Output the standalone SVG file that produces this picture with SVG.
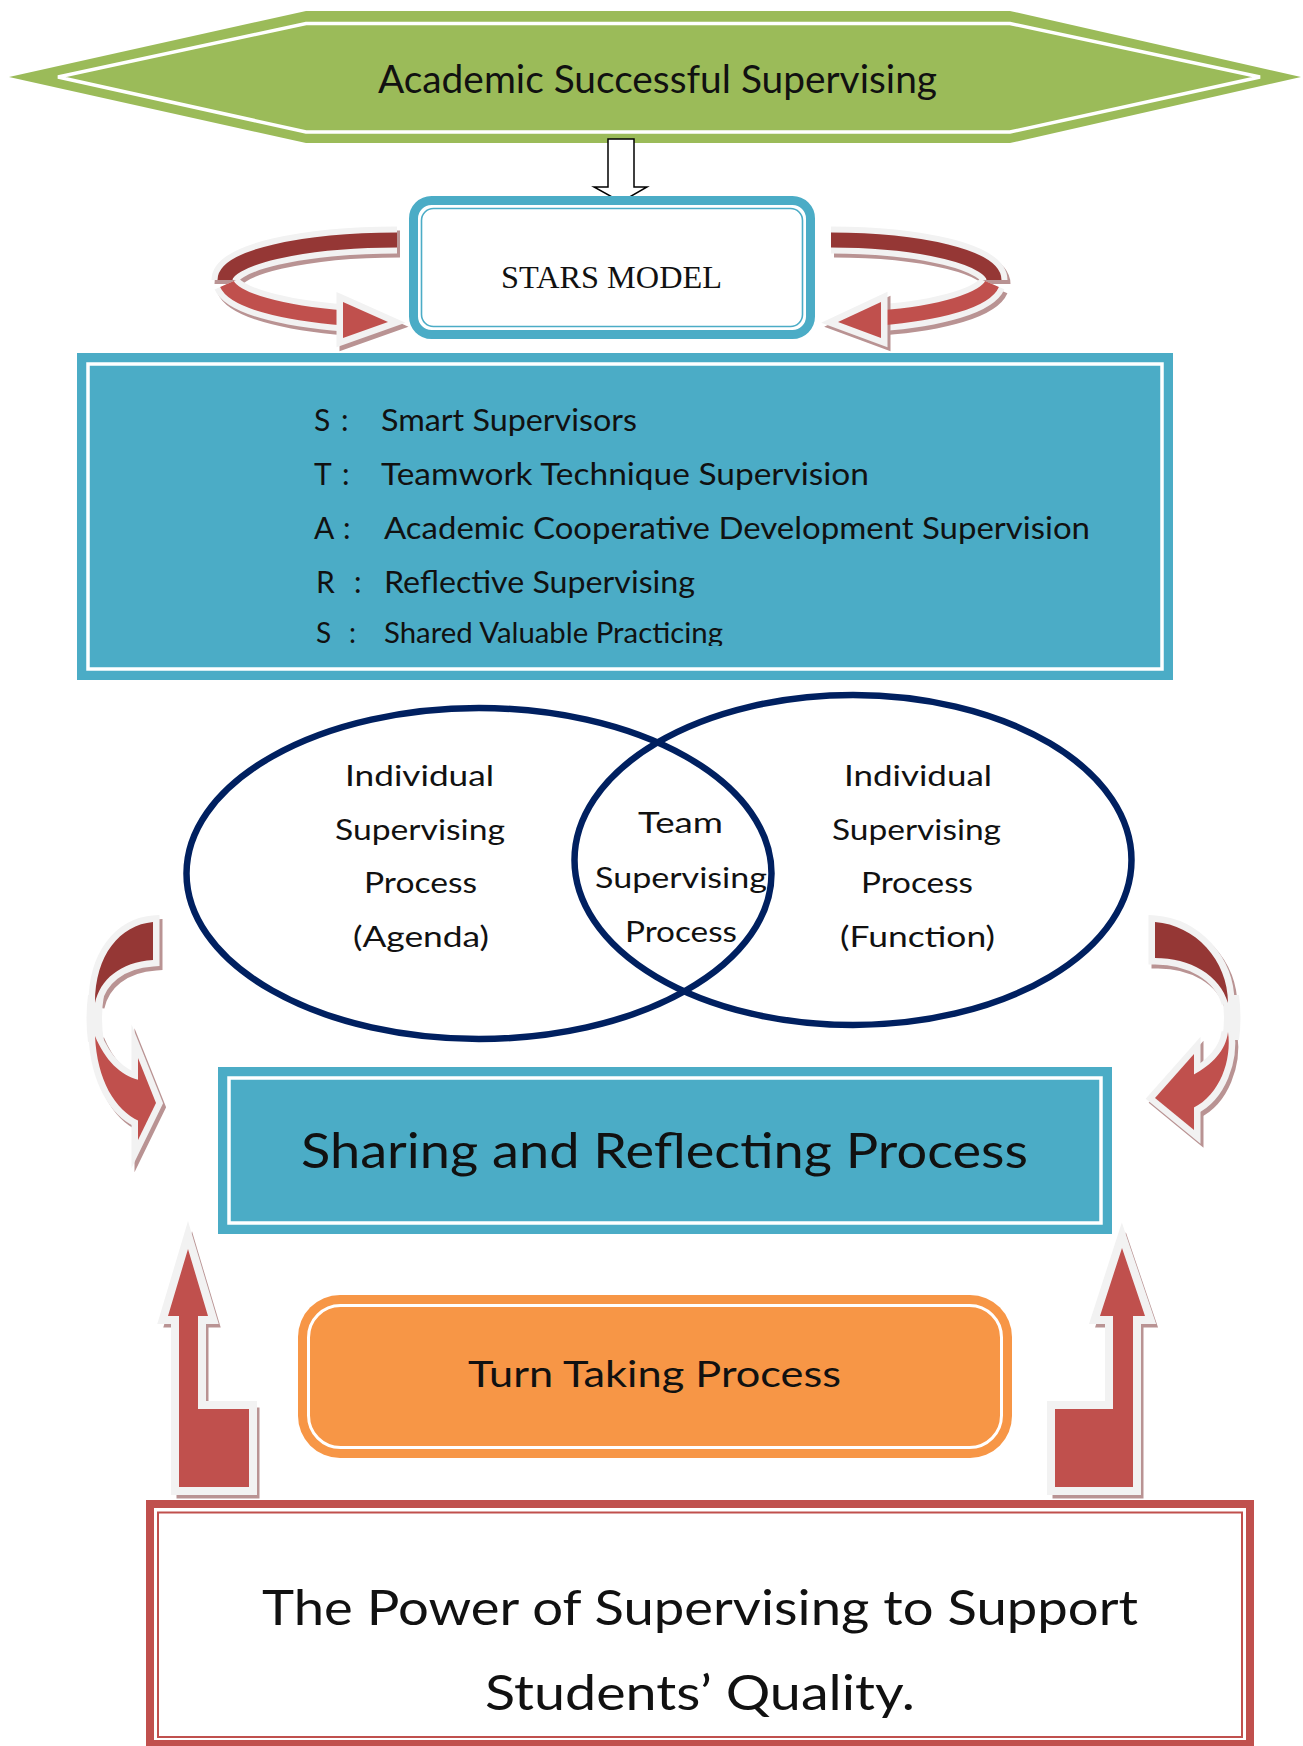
<svg xmlns="http://www.w3.org/2000/svg" width="1303" height="1746" viewBox="0 0 1303 1746">
<style>
.t{font-family:Lato,"Open Sans","Liberation Sans",sans-serif;fill:#111}
.sv{font-family:"Liberation Serif","Times New Roman",serif;fill:#111}
.dk{fill:#953735}
.lt{fill:#C0504D}
.ol{stroke:#F2F2F2;stroke-width:13;stroke-linejoin:miter;stroke-miterlimit:4;paint-order:stroke}
.wo{fill:#F2F2F2;stroke:#F2F2F2;stroke-width:13;stroke-linejoin:miter;stroke-miterlimit:4}
.wh{fill:#F2F2F2;stroke:#F2F2F2;stroke-width:13;stroke-linejoin:miter;stroke-miterlimit:8}
.sh{fill:#B99393;stroke:#B99393;stroke-width:13;stroke-linejoin:miter;stroke-miterlimit:4}
.shh{fill:#B99393;stroke:#B99393;stroke-width:13;stroke-linejoin:miter;stroke-miterlimit:8}
.bandW{fill:none;stroke:#F2F2F2;stroke-width:27}
.bandS{fill:none;stroke:#B99393;stroke-width:27}
</style>
<defs>
<clipPath id="clipLast"><rect x="300" y="600" width="600" height="46"/></clipPath>
</defs>
<rect width="1303" height="1746" fill="#fff"/>

<g id="title">
<polygon points="9,77 306,11 1010,11 1301,77 1010,143 306,143" fill="#9BBB59"/>
<polygon points="58,77 306,23.5 1010,23.5 1260,77 1010,132 306,132" fill="none" stroke="#fff" stroke-width="3.5"/>
<text class="t" x="378" y="93" font-size="38" textLength="559" lengthAdjust="spacingAndGlyphs">Academic Successful Supervising</text>
</g>

<g id="connectors">
<polygon points="608,139 634,139 634,187 647,187 621,202 594,187 608,187" fill="#fff" stroke="#000" stroke-width="1.5"/>

<g id="loopLeft">
<path d="M397,240 A172,40 0 0 0 225,280" class="bandS" transform="translate(3,4)"/>
<path d="M397,240 A172,40 0 0 0 225,280" class="bandW"/>
<path d="M397,240 A172,40 0 0 0 225,280" fill="none" stroke="#953735" stroke-width="15"/>
<path d="M227,284 A172,40 0 0 0 345,318" class="bandS" transform="translate(3,4)"/>
<path d="M227,284 A172,40 0 0 0 345,318" class="bandW"/>
<polygon points="343,302 388,322 343,338" class="sh" transform="translate(3,4)"/>
<path d="M227,284 A172,40 0 0 0 345,318" fill="none" stroke="#C0504D" stroke-width="15"/>
<polygon points="343,302 388,322 343,338" class="lt ol"/>
</g>

<g id="loopRight">
<path d="M831,240 A163,40 0 0 1 994,280" class="bandS" transform="translate(3,4)"/>
<path d="M831,240 A163,40 0 0 1 994,280" class="bandW"/>
<path d="M831,240 A163,40 0 0 1 994,280" fill="none" stroke="#953735" stroke-width="15"/>
<path d="M992,284 A163,40 0 0 1 879,318" class="bandS" transform="translate(3,4)"/>
<path d="M992,284 A163,40 0 0 1 879,318" class="bandW"/>
<polygon points="881,302 838,322 881,338" class="sh" transform="translate(3,4)"/>
<path d="M992,284 A163,40 0 0 1 879,318" fill="none" stroke="#C0504D" stroke-width="15"/>
<polygon points="881,302 838,322 881,338" class="lt ol"/>
</g>

<g id="curveLeft">
<g transform="translate(3,4)">
<path d="M153,922 C120,925 95,955 95,1003 C100,980 120,962 153,960 Z" class="sh"/>
<path d="M95,1036 C105,1060 120,1075 138,1080 L138,1121 C115,1110 97,1080 95,1036 Z" class="sh"/>
<polygon points="138,1058 156,1103 138,1140" class="shh"/>
</g>
<path d="M88,995 Q85,1018 88,1042 L104,1042 Q100,1018 104,995 Z" fill="#F2F2F2"/>
<path d="M153,922 C120,925 95,955 95,1003 C100,980 120,962 153,960 Z" class="wo"/>
<path d="M95,1036 C105,1060 120,1075 138,1080 L138,1121 C115,1110 97,1080 95,1036 Z" class="wo"/>
<polygon points="138,1058 156,1103 138,1140" class="wh"/>
<path d="M153,922 C120,925 95,955 95,1003 C100,980 120,962 153,960 Z" class="dk"/>
<path d="M95,1036 C105,1060 120,1075 139,1080 L139,1121 C115,1110 97,1080 95,1036 Z" class="lt"/>
<polygon points="138,1058 156,1103 138,1140" class="lt"/>
</g>

<g id="curveRight">
<g transform="translate(3,4)">
<path d="M1155,922 C1195,925 1228,960 1228,1003 C1220,975 1190,958 1155,958 Z" class="sh"/>
<path d="M1228,1032 C1232,1060 1220,1095 1194,1108 L1194,1075 C1212,1065 1226,1050 1228,1032 Z" class="sh"/>
<polygon points="1194,1054 1155,1098 1194,1130" class="shh"/>
</g>
<path d="M1222,995 Q1226,1018 1222,1040 L1239,1040 Q1242,1018 1239,995 Z" fill="#F2F2F2"/>
<path d="M1155,922 C1195,925 1228,960 1228,1003 C1220,975 1190,958 1155,958 Z" class="wo"/>
<path d="M1228,1032 C1232,1060 1220,1095 1194,1108 L1194,1075 C1212,1065 1226,1050 1228,1032 Z" class="wo"/>
<polygon points="1194,1054 1155,1098 1194,1130" class="wh"/>
<path d="M1155,922 C1195,925 1228,960 1228,1003 C1220,975 1190,958 1155,958 Z" class="dk"/>
<path d="M1228,1032 C1232,1060 1220,1095 1193,1108 L1193,1075 C1212,1065 1226,1050 1228,1032 Z" class="lt"/>
<polygon points="1194,1054 1155,1098 1194,1130" class="lt"/>
</g>

<g id="upLeft">
<polygon points="188,1249 208,1316 198,1316 198,1409 249,1409 249,1487 179,1487 179,1316 168,1316" class="sh" transform="translate(4,5)"/>
<polygon points="188,1249 208,1316 198,1316 198,1409 249,1409 249,1487 179,1487 179,1316 168,1316" class="lt ol" style="stroke-width:16"/>
</g>
<g id="upRight">
<polygon points="1122,1248 1145,1316 1133,1316 1133,1487 1055,1487 1055,1409 1113,1409 1113,1316 1100,1316" class="sh" transform="translate(4,5)"/>
<polygon points="1122,1248 1145,1316 1133,1316 1133,1487 1055,1487 1055,1409 1113,1409 1113,1316 1100,1316" class="lt ol" style="stroke-width:16"/>
</g>
</g>

<g id="stars">
<rect x="413.5" y="200.5" width="397" height="134" rx="18" fill="#fff" stroke="#4BACC6" stroke-width="9"/>
<rect x="421.5" y="208.5" width="381" height="118" rx="12" fill="none" stroke="#4BACC6" stroke-width="1.6"/>
<text class="sv" x="501" y="288" font-size="32" textLength="221" lengthAdjust="spacingAndGlyphs">STARS MODEL</text>
</g>

<g id="starsList">
<rect x="77" y="353" width="1096" height="327" fill="#4BACC6"/>
<rect x="88" y="364" width="1074" height="305" fill="none" stroke="#fff" stroke-width="3.5"/>
<g class="t" font-size="30">
<text x="314" y="431">S</text><text x="341" y="431">:</text>
<text x="381" y="431" textLength="256" lengthAdjust="spacingAndGlyphs">Smart Supervisors</text>
<text x="314" y="485">T</text><text x="342" y="485">:</text>
<text x="381" y="485" textLength="488" lengthAdjust="spacingAndGlyphs">Teamwork Technique Supervision</text>
<text x="314" y="539">A</text><text x="343" y="539">:</text>
<text x="384" y="539" textLength="706" lengthAdjust="spacingAndGlyphs">Academic Cooperative Development Supervision</text>
<text x="316" y="593">R</text><text x="354" y="593">:</text>
<text x="384" y="593" textLength="311" lengthAdjust="spacingAndGlyphs">Reflective Supervising</text>
</g>
<g class="t" font-size="28" clip-path="url(#clipLast)">
<text x="316" y="643">S</text><text x="349" y="643">:</text>
<text x="384" y="643" textLength="339" lengthAdjust="spacingAndGlyphs">Shared Valuable Practicing</text>
</g>
</g>

<g id="venn">
<ellipse cx="479" cy="873.5" rx="292.5" ry="165.5" fill="none" stroke="#002060" stroke-width="6.5"/>
<ellipse cx="853" cy="860" rx="278.5" ry="165" fill="none" stroke="#002060" stroke-width="6.5"/>
</g>
<g id="individualAgenda" class="t" font-size="29">
<text x="345" y="786" textLength="149" lengthAdjust="spacingAndGlyphs">Individual</text>
<text x="335" y="840" textLength="170" lengthAdjust="spacingAndGlyphs">Supervising</text>
<text x="364" y="893" textLength="113" lengthAdjust="spacingAndGlyphs">Process</text>
<text x="353" y="947" textLength="136" lengthAdjust="spacingAndGlyphs">(Agenda)</text>
</g>
<g id="team" class="t" font-size="29">
<text x="638" y="833" textLength="85" lengthAdjust="spacingAndGlyphs">Team</text>
<text x="595" y="888" textLength="172" lengthAdjust="spacingAndGlyphs">Supervising</text>
<text x="625" y="942" textLength="112" lengthAdjust="spacingAndGlyphs">Process</text>
</g>
<g id="individualFunction" class="t" font-size="29">
<text x="844" y="786" textLength="148" lengthAdjust="spacingAndGlyphs">Individual</text>
<text x="832" y="840" textLength="169" lengthAdjust="spacingAndGlyphs">Supervising</text>
<text x="861" y="893" textLength="112" lengthAdjust="spacingAndGlyphs">Process</text>
<text x="840" y="947" textLength="155" lengthAdjust="spacingAndGlyphs">(Function)</text>
</g>

<g id="sharing">
<rect x="218" y="1067" width="894" height="167" fill="#4BACC6"/>
<rect x="229" y="1078" width="872" height="145" fill="none" stroke="#fff" stroke-width="3.5"/>
<text class="t" x="301" y="1168" font-size="49" textLength="727" lengthAdjust="spacingAndGlyphs">Sharing and Reflecting Process</text>
</g>

<g id="turnTaking">
<rect x="298" y="1295" width="714" height="163" rx="42" fill="#F79646"/>
<rect x="308.5" y="1305.5" width="693" height="142" rx="32" fill="none" stroke="#fff" stroke-width="3"/>
<text class="t" x="468" y="1387" font-size="37" textLength="373" lengthAdjust="spacingAndGlyphs">Turn Taking Process</text>
</g>

<g id="power">
<rect x="150" y="1504" width="1100" height="240" fill="#fff" stroke="#C0504D" stroke-width="8"/>
<rect x="158" y="1512.5" width="1084" height="224.5" fill="none" stroke="#C0504D" stroke-width="2"/>
<text class="t" x="262" y="1625" font-size="48" textLength="876" lengthAdjust="spacingAndGlyphs">The Power of Supervising to Support</text>
<text class="t" x="485" y="1710" font-size="48" textLength="430" lengthAdjust="spacingAndGlyphs">Students’ Quality.</text>
</g>
</svg>
